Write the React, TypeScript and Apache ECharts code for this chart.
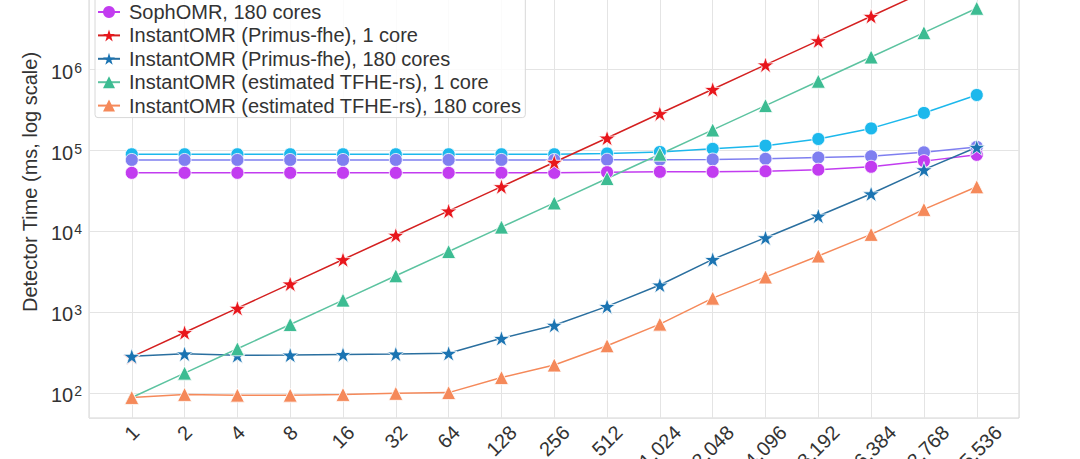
import React, { useEffect, useRef } from 'react';
import * as echarts from 'echarts';

const FONT = "'Liberation Sans', Arial, Helvetica, sans-serif";

const X_LABELS = ['1', '2', '4', '8', '16', '32', '64', '128', '256', '512', '1,024', '2,048', '4,096', '8,192', '16,384', '32,768', '65,536'];

const Y_TITLE = 'Detector Time (ms, log scale)';

// two upper baselines (their legend rows lie above the visible area)
const baselineA = [90000, 90000, 90000, 90000, 90000, 90000, 90000, 90000, 90000, 92000, 96000, 105000, 115000, 139000, 188000, 292000, 487000];
const baselineB = [76500, 76500, 76500, 76500, 76500, 76500, 76500, 76500, 76500, 77000, 77000, 77500, 79000, 82000, 85000, 95000, 111000];
const sophomr180 = [53000, 53000, 53000, 53000, 53000, 53000, 53000, 53000, 53000, 54000, 54500, 54500, 55500, 58000, 63000, 74000, 88500];
const primus1 = [280, 560, 1120, 2240, 4480, 8960, 17900, 35800, 71700, 143000, 287000, 573000, 1150000, 2290000, 4590000, 9180000, 18400000];
const primus180 = [285, 305, 292, 295, 300, 304, 310, 475, 690, 1180, 2170, 4500, 8350, 15500, 29200, 58000, 110000];
const tfhe1 = [88, 176, 352, 704, 1410, 2820, 5630, 11300, 22500, 45100, 90100, 180000, 360000, 721000, 1440000, 2880000, 5770000];
const tfhe180 = [88, 96, 94, 94, 96, 99, 101, 155, 222, 384, 711, 1490, 2730, 4960, 9180, 18700, 35600];

const LEGEND_NAMES = [
  'SophOMR, 180 cores',
  'InstantOMR (Primus-fhe), 1 core',
  'InstantOMR (Primus-fhe), 180 cores',
  'InstantOMR (estimated TFHE-rs), 1 core',
  'InstantOMR (estimated TFHE-rs), 180 cores',
];

const STAR = 'path://M50,0L61.23,34.55L97.55,34.55L68.17,55.9L79.39,90.45L50,69.1L20.61,90.45L31.83,55.9L2.45,34.55L38.77,34.55Z';

export default function App() {
  const ref = useRef<HTMLDivElement>(null);

  useEffect(() => {
    const chart = echarts.init(ref.current!, null, { renderer: 'svg' });

    const ctx = document.createElement('canvas').getContext('2d')!;
    ctx.font = `20px ${FONT}`;
    const richX: Record<string, any> = {};
    X_LABELS.forEach((s, i) => {
      const w = ctx.measureText(s).width;
      richX['l' + i] = { fontSize: 20, fontFamily: FONT, color: '#333', padding: [w / 2, w / 2, 0, 0] };
    });

    const mk = (name: string, vals: number[], color: string, symbol: string, size: number, lineColor?: string) => ({
      name,
      type: 'line',
      data: vals.map((v, i) => [i, v]),
      symbol,
      symbolSize: size,
      symbolKeepAspect: true,
      lineStyle: { color: lineColor || color, width: 1.5 },
      itemStyle: { color, borderColor: '#ffffff', borderWidth: 0.8 },
      emphasis: { disabled: true },
      silent: true,
    });

    chart.setOption({
      animation: false,
      backgroundColor: '#ffffff',
      textStyle: { fontFamily: FONT },
      grid: {
        left: 89, right: 61, top: 6, bottom: 41,
        outerBoundsMode: 'none',
        containLabel: false,
        show: true, borderColor: '#d4d4d4', borderWidth: 1, backgroundColor: 'transparent',
      },
      legend: {
        data: LEGEND_NAMES,
        orient: 'vertical',
        left: 95,
        top: 54,
        padding: [8, 4, 2, 2],
        itemWidth: 22,
        itemHeight: 15,
        itemGap: 3.4,
        itemStyle: { borderWidth: 0 },
        backgroundColor: 'rgba(255,255,255,0.85)',
        borderColor: '#d8d8d8',
        borderWidth: 1,
        borderRadius: 3,
        textStyle: { fontSize: 20, lineHeight: 20, color: '#333', fontFamily: FONT, padding: [0, 0, 0, 4] },
        selectedMode: false,
      },
      xAxis: {
        type: 'value',
        min: -0.81,
        max: 16.8,
        minInterval: 1,
        maxInterval: 1,
        axisLine: { show: false },
        axisTick: { show: false },
        splitLine: { show: true, lineStyle: { color: '#e4e4e4', width: 1 } },
        axisLabel: {
          rotate: 45,
          align: 'center',
          verticalAlign: 'middle',
          margin: 11,
          fontSize: 20,
          color: '#333',
          fontFamily: FONT,
          hideOverlap: false,
          showMinLabel: true,
          showMaxLabel: true,
          formatter: (v: number) => {
            const i = Math.round(v);
            if (Math.abs(v - i) > 1e-6 || i < 0 || i >= X_LABELS.length) return '';
            return `{l${i}|${X_LABELS[i]}}`;
          },
          rich: richX,
        },
      },
      yAxis: {
        type: 'log',
        logBase: 10,
        min: 49,
        max: 3.4e7,
        name: Y_TITLE,
        nameLocation: 'middle',
        nameGap: 38,
        nameRotate: 90,
        nameTextStyle: { fontSize: 20, color: '#333', fontFamily: FONT },
        axisLine: { show: false },
        axisTick: { show: false },
        splitLine: { show: true, lineStyle: { color: '#e4e4e4', width: 1 } },
        axisLabel: {
          margin: 7,
          color: '#333',
          showMinLabel: true,
          showMaxLabel: true,
          formatter: (v: number) => {
            const e = Math.log10(v);
            const r = Math.round(e);
            if (Math.abs(e - r) > 1e-6 || r > 6) return '';
            return `{b|10}{s|${r}}`;
          },
          rich: {
            b: { fontSize: 20, lineHeight: 24, padding: [5, 0, 0, 0], verticalAlign: 'bottom', color: '#333', fontFamily: FONT },
            s: { fontSize: 14, lineHeight: 14, padding: [3, 0, 0, 1], verticalAlign: 'top', color: '#333', fontFamily: FONT },
          },
        },
      },
      series: [
        mk('Baseline A', baselineA, '#1cb8ec', 'circle', 13),
        mk('Baseline B', baselineB, '#7f7ff0', 'circle', 13),
        mk(LEGEND_NAMES[0], sophomr180, '#c23cf0', 'circle', 13),
        mk(LEGEND_NAMES[1], primus1, '#e8161c', STAR, 17, '#d42020'),
        mk(LEGEND_NAMES[2], primus180, '#1b74b2', STAR, 17, '#2a6f9f'),
        mk(LEGEND_NAMES[3], tfhe1, '#3cbc92', 'triangle', 14, '#5cc3a0'),
        mk(LEGEND_NAMES[4], tfhe180, '#f5895a', 'triangle', 14),
      ],
    });

    return () => chart.dispose();
  }, []);

  return (
    <div
      ref={ref}
      style={{ position: 'absolute', left: 0, top: -60, width: 1080, height: 519 }}
    />
  );
}
